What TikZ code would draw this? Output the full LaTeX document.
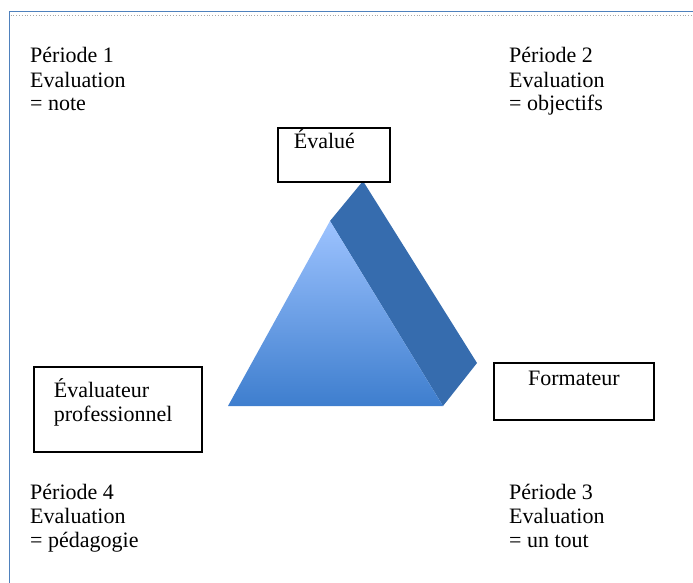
\documentclass[tikz,border=0pt]{standalone}
\usepackage{fontspec}
\setmainfont{Liberation Serif}
\definecolor{frameblue}{RGB}{79,129,189}
\definecolor{sideblue}{RGB}{54,108,174}
\definecolor{triTop}{RGB}{157,195,255}
\definecolor{triBot}{RGB}{62,126,206}
\begin{document}
\begin{tikzpicture}[x=1pt,y=-1pt,
  txt/.style={font=\fontsize{22}{24}\selectfont, inner sep=0pt, align=left, anchor=base west},
  box/.style={draw=black, line width=1.8pt, inner sep=0pt, anchor=north west, font=\fontsize{22}{24}\selectfont},
]
\useasboundingbox (0,0) rectangle (693,583);
% frame
\draw[frameblue, line width=1.8pt] (9.5,583) -- (9.5,11.5) -- (693,11.5);
\draw[gray!70, dotted, line width=0.8pt] (10.5,15.5) -- (693,15.5);
% pyramid
\coordinate (A) at (228,406);
\coordinate (B) at (443,406);
\coordinate (C) at (330,221);
\coordinate (D) at (363,181);
\coordinate (E) at (477,363);
\fill[sideblue] (C) -- (D) -- (E) -- (B) -- cycle;
\shade[top color=triTop, bottom color=triBot] (A) -- (B) -- (C) -- cycle;
% boxes
\node[box, text width=80pt, align=left, inner xsep=16pt, text height=21pt, text depth=33pt] (evalue) at (277,127) {Évalué};
\node[box, text width=128pt, align=left, inner xsep=20pt, text height=31pt, text depth=54pt] (prof) at (33,366) {Évaluateur\\professionnel};
\node[box, text width=160pt, align=center, text height=23pt, text depth=34pt] (form) at (493,362) {Formateur};
% period texts (base anchor = last line)
\node[txt] (p1) at (30,111) {Période 1\\Evaluation\\= note};
\node[txt] (p2) at (509,111) {Période 2\\Evaluation\\= objectifs};
\node[txt] (p4) at (30,547) {Période 4\\Evaluation\\= pédagogie};
\node[txt] (p3) at (509,547) {Période 3\\Evaluation\\= un tout};
\end{tikzpicture}
\end{document}
